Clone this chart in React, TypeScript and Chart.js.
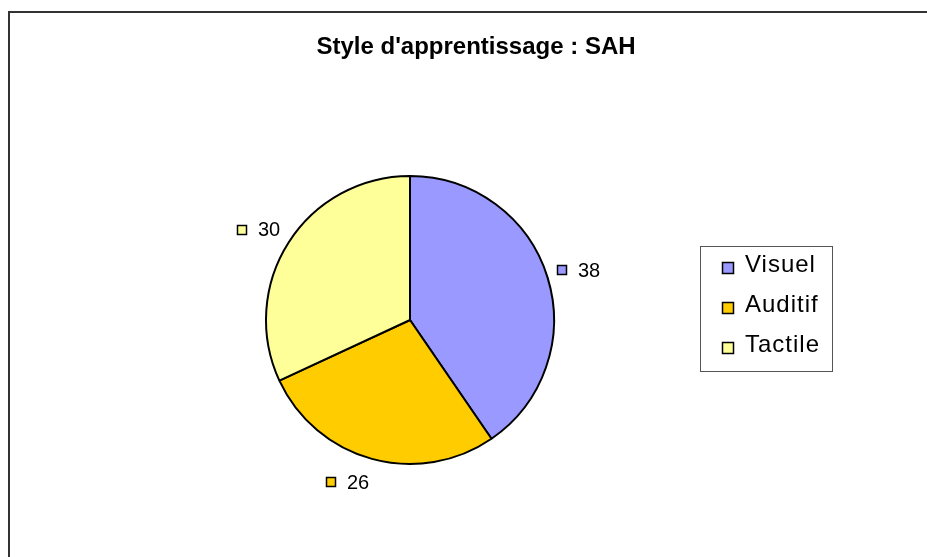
import React, { useEffect, useRef } from "react";
import { Chart, registerables } from "chart.js";

Chart.register(...registerables);

const chartTitle = "Style d'apprentissage : SAH";
const categories = ["Visuel", "Auditif", "Tactile"];
const values = [38, 26, 30];
const sliceColors = ["#9999FF", "#FFCC00", "#FFFF99"];

const FONT = "'Liberation Sans', Arial, sans-serif";

const decorPlugin = {
  id: "decor",
  beforeDraw(chart: any) {
    const ctx = chart.ctx;
    ctx.save();
    ctx.fillStyle = "#ffffff";
    ctx.fillRect(0, 0, chart.width, chart.height);
    ctx.fillStyle = "#333333";
    ctx.fillRect(8, 11, chart.width - 8, 2);
    ctx.fillRect(8, 11, 2, chart.height - 11);
    ctx.restore();
  },
  afterDraw(chart: any) {
    const ctx = chart.ctx;
    ctx.save();
    // title
    ctx.fillStyle = "#000";
    ctx.font = `bold 24px ${FONT}`;
    ctx.textAlign = "center";
    ctx.textBaseline = "alphabetic";
    ctx.fillText(chartTitle, 476, 54);

    // data labels
    const meta = chart.getDatasetMeta(0);
    ctx.font = `20px ${FONT}`;
    ctx.textAlign = "left";
    meta.data.forEach((el: any, i: number) => {
      const p = el.getProps(["x", "y", "startAngle", "endAngle", "outerRadius"], true);
      const mid = (p.startAngle + p.endAngle) / 2;
      const c = Math.cos(mid);
      const s = Math.sin(mid);
      const ax = p.x + c * (p.outerRadius + 10);
      const ay = p.y + s * (p.outerRadius + 16);
      const txt = String(values[i]);
      const tw = ctx.measureText(txt).width;
      const sq = 10;
      const gap = 11;
      const w = sq + gap + tw;
      const h = 16;
      const cx = ax + (Math.sign(c) * w) / 2;
      const cy = ay + (s * h) / 2;
      const left = Math.round(cx - w / 2);
      const top = Math.round(cy - sq / 2);
      ctx.fillStyle = sliceColors[i];
      ctx.fillRect(left, top, sq, sq);
      ctx.strokeStyle = "#000";
      ctx.lineWidth = 1.5;
      ctx.strokeRect(left + 0.5, top + 0.5, sq - 1, sq - 1);
      ctx.fillStyle = "#000";
      ctx.textBaseline = "middle";
      ctx.fillText(txt, left + sq + gap, cy + 1);
    });

    // legend
    ctx.strokeStyle = "#555";
    ctx.lineWidth = 1;
    ctx.strokeRect(700.5, 246.5, 132, 125);
    ctx.font = `24px ${FONT}`;
    ctx.textBaseline = "alphabetic";
    (ctx as any).letterSpacing = "1px";
    categories.forEach((lab, i) => {
      const yc = 268 + i * 40;
      ctx.fillStyle = sliceColors[i];
      ctx.fillRect(722, yc - 6, 12, 12);
      ctx.strokeStyle = "#000";
      ctx.lineWidth = 1.5;
      ctx.strokeRect(722.5, yc - 5.5, 11, 11);
      ctx.fillStyle = "#000";
      ctx.fillText(lab, 745, 272 + i * 40);
    });
    ctx.restore();
  },
};

export default function App() {
  const ref = useRef<HTMLCanvasElement | null>(null);
  useEffect(() => {
    document.body.style.margin = "0";
    const chart = new Chart(ref.current as HTMLCanvasElement, {
      type: "pie",
      data: {
        labels: categories,
        datasets: [
          {
            data: values,
            backgroundColor: sliceColors,
            borderColor: "#000000",
            borderWidth: 2,
          },
        ],
      },
      options: {
        responsive: false,
        animation: false,
        events: [],
        layout: { padding: { left: 265, right: 372, top: 175, bottom: 92 } },
        plugins: {
          legend: { display: false },
          title: { display: false },
          tooltip: { enabled: false },
        },
      },
      plugins: [decorPlugin],
    });
    return () => chart.destroy();
  }, []);
  return (
    <div style={{ width: 927, height: 557 }}>
      <canvas ref={ref} width={927} height={557} style={{ display: "block" }} />
    </div>
  );
}
